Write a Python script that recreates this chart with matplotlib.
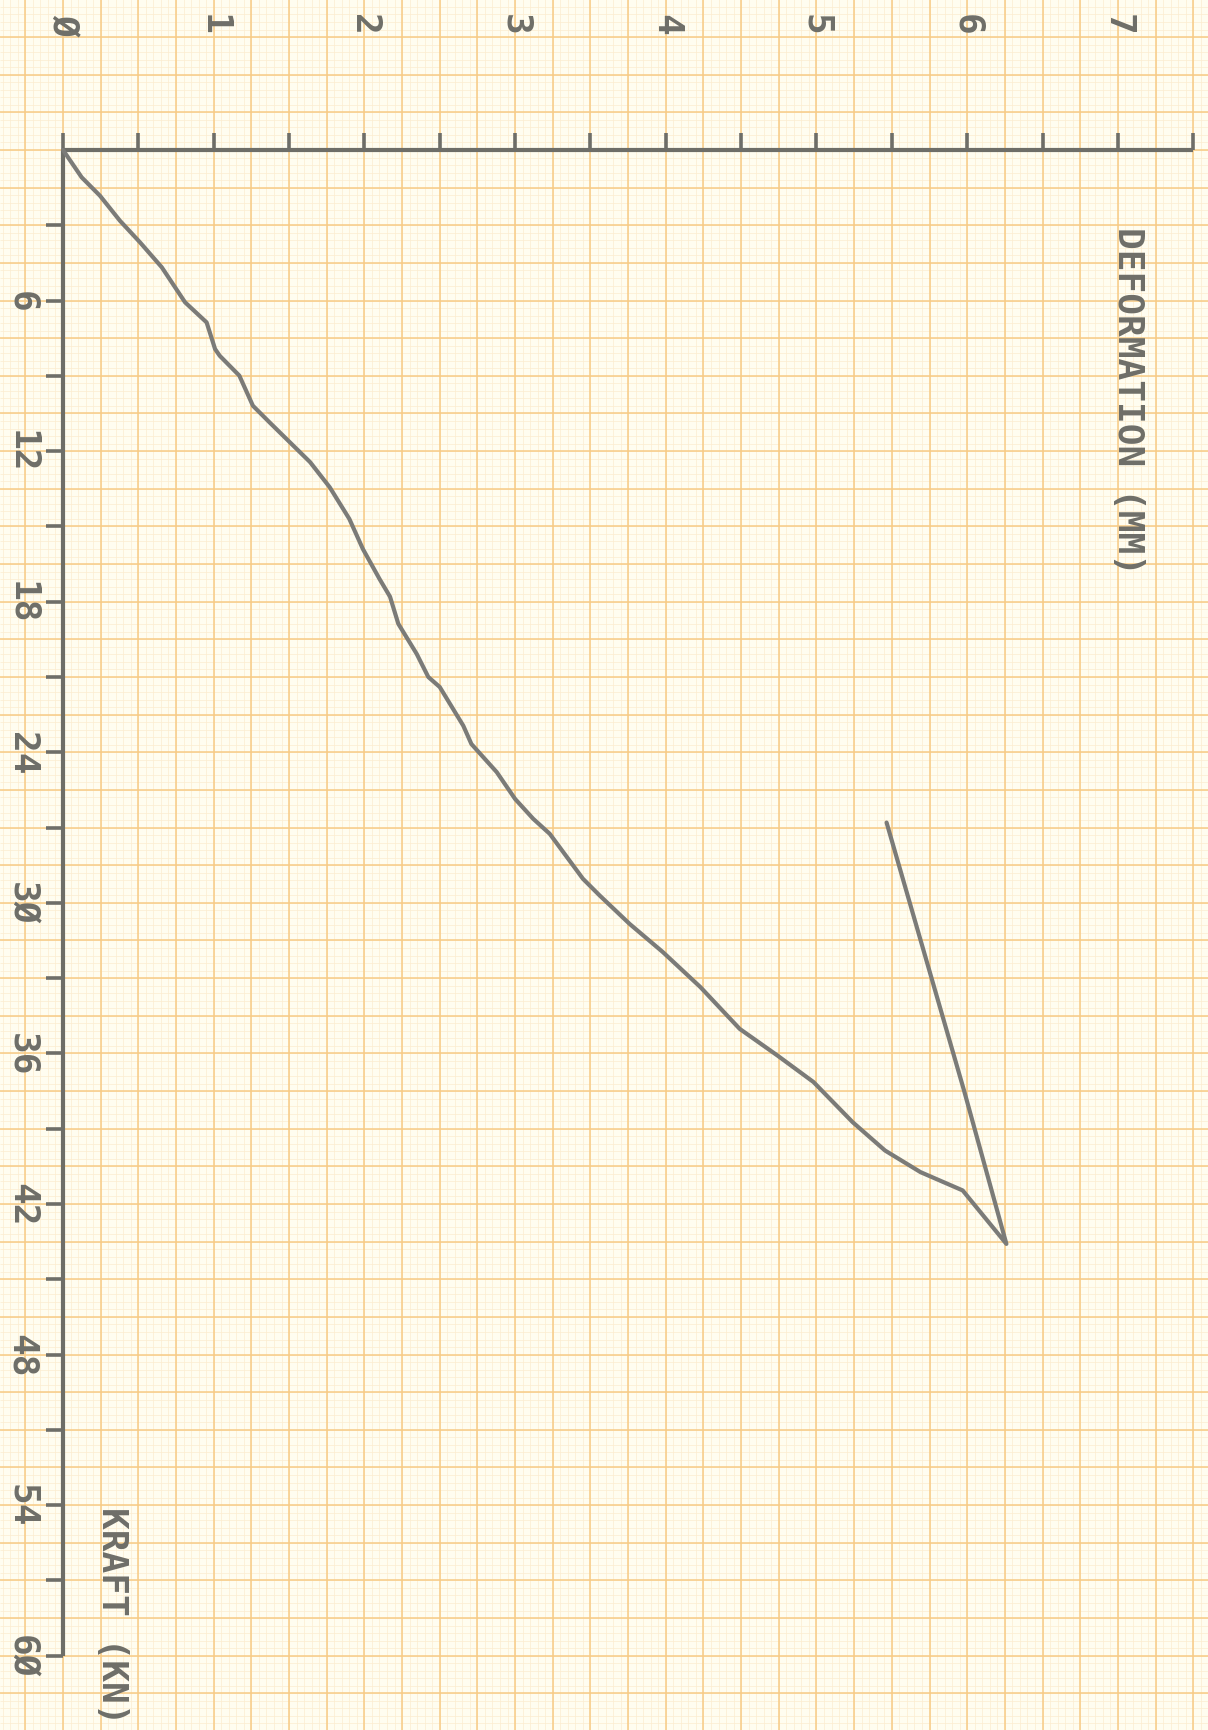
"""Force-deformation plotter chart on orange graph paper (page turned 90 degrees)."""

from __future__ import annotations

import matplotlib

matplotlib.use("Agg")
import matplotlib.pyplot as plt
import numpy as np

# Loading path, then unloading: deformation in mm, force in kN.
deformation_mm = [
    0.0, 0.124, 0.245, 0.378, 0.511, 0.655, 0.81, 0.953, 1.009, 1.04,
    1.17, 1.26, 1.37, 1.55, 1.64, 1.77, 1.90, 1.99, 2.10, 2.17,
    2.225, 2.347, 2.424, 2.50, 2.656, 2.71, 2.878, 3.0, 3.12, 3.23,
    3.45, 3.56, 3.76, 3.98, 4.23, 4.49, 4.74, 4.98, 5.24, 5.455,
    5.69, 5.97, 6.26, 5.98, 5.465,
]
force_kn = [
    0.0, 1.09, 1.82, 2.82, 3.68, 4.67, 6.07, 6.87, 7.93, 8.2,
    8.99, 10.19, 10.85, 11.91, 12.44, 13.44, 14.7, 15.9, 17.09, 17.8,
    18.88, 20.08, 21.0, 21.4, 22.94, 23.67, 24.79, 25.86, 26.65, 27.25,
    29.04, 29.7, 30.84, 31.96, 33.36, 35.02, 36.08, 37.14, 38.74, 39.87,
    40.73, 41.46, 43.59, 37.5, 26.8,
]

# Axis ticks and the plotter's labels (slashed zeros as drawn).
x_ticks = [0.5 * i for i in range(16)]
x_labels = ["Ø", "1", "2", "3", "4", "5", "6", "7"]
y_ticks = [3 * i for i in range(21)]
y_labels = ["6", "12", "18", "24", "3Ø", "36", "42", "48", "54", "6Ø"]

x_title = "DEFORMATION (MM)"
y_title = "KRAFT (KN)"


def main() -> None:
    W, H = 1208, 1731
    fig = plt.figure(figsize=(W / 100, H / 100), dpi=100)
    ax = fig.add_axes([0, 0, 1, 1])

    # Pixel mapping of the scanned page: origin at (63, 151) px.
    ox, oy = 63.0, 151.0
    sx, sy = 150.7, 25.095  # px per mm, px per kN
    ax.set_xlim(-ox / sx, (W - ox) / sx)
    ax.set_ylim((H - oy) / sy, -oy / sy)
    ax.axis("off")

    paper = "#fffdf0"
    fig.patch.set_facecolor(paper)
    ax.set_facecolor(paper)

    # Graph paper: major every 0.25 mm / 1.5 kN, fine lines at fifths.
    x0, x1 = ax.get_xlim()
    y1, y0 = ax.get_ylim()
    fine_x = np.arange(np.floor(x0 / 0.05) * 0.05, x1 + 0.05, 0.05)
    fine_y = np.arange(np.floor(y0 / 0.3) * 0.3, y1 + 0.3, 0.3)
    ax.vlines(fine_x, y0, y1, color="#fcecd0", lw=0.5, zorder=0)
    ax.hlines(fine_y, x0, x1, color="#fcecd0", lw=0.5, zorder=0)
    major_x = np.arange(np.floor(x0 / 0.25) * 0.25, x1 + 0.25, 0.25)
    major_y = np.arange(np.floor(y0 / 1.5) * 1.5, y1 + 1.5, 1.5)
    ax.vlines(major_x, y0, y1, color="#f7cb85", lw=1.1, zorder=1)
    ax.hlines(major_y, x0, x1, color="#f7cb85", lw=1.1, zorder=1)

    ink = "#6e6e68"
    # Axes drawn by the plotter pen.
    ax.plot([0, x_ticks[-1]], [0, 0], color=ink, lw=3.0, solid_capstyle="butt", zorder=3)
    ax.plot([0, 0], [0, y_ticks[-1]], color=ink, lw=3.0, solid_capstyle="butt", zorder=3)
    tick_len_y = 17 / sy
    tick_len_x = 17 / sx
    ax.vlines(x_ticks, -tick_len_y, 0, color=ink, lw=2.6, zorder=3)
    ax.hlines(y_ticks[1:], -tick_len_x, 0, color=ink, lw=2.6, zorder=3)

    font = dict(family="DejaVu Sans Mono", fontsize=26, fontweight="bold",
                color=ink, rotation=-90)
    for i, lab in enumerate(x_labels):
        ax.text(i, (25 - oy) / sy, lab, ha="center", va="center", **font)
    for i, lab in enumerate(y_labels):
        ax.text((22 - ox) / sx, 6 * (i + 1), lab, ha="center", va="center", **font)
    ax.text((1128 - ox) / sx, (227 - oy) / sy, x_title, ha="center", va="top", **font)
    ax.text((112 - ox) / sx, (1507 - oy) / sy, y_title, ha="center", va="top", **font)

    # The measured curve.
    ax.plot(deformation_mm, force_kn, color="#7b7b78", lw=3.0,
            solid_joinstyle="round", solid_capstyle="round", zorder=4)

    fig.savefig("out.png", dpi=100, facecolor=paper)
    plt.close(fig)


if __name__ == "__main__":
    main()
